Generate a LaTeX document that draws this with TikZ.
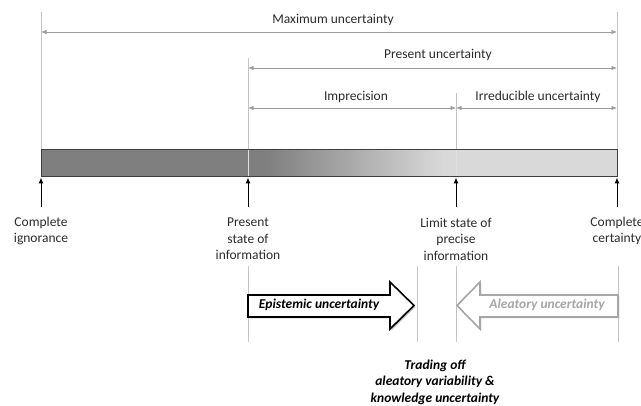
\documentclass[tikz,border=0pt]{standalone}
\usepackage{fontspec}
\setmainfont{Carlito}
\usetikzlibrary{arrows.meta,shadows}
\definecolor{txt}{HTML}{2B2B2B}
\definecolor{dimc}{HTML}{9C9C9C}
\definecolor{guide}{HTML}{C4C4C4}
\definecolor{bardark}{HTML}{7F7F7F}
\definecolor{barlight}{HTML}{D9D9D9}
\definecolor{barborder}{HTML}{3F3F3F}
\definecolor{aleac}{HTML}{A6A6A6}
\begin{document}
\begin{tikzpicture}[x=1pt,y=-1pt,
  lbl/.style={font=\fontsize{13.5}{16.5}\selectfont, text=txt, inner sep=0pt, align=center},
  dim/.style={draw=dimc, line width=0.8pt, {Latex[length=5.5pt,width=4.5pt]}-{Latex[length=5.5pt,width=4.5pt]}},
  guideline/.style={draw=guide, line width=0.7pt},
  barguide/.style={draw=white!88!black, line width=0.9pt},
  uparrow/.style={draw=black, line width=1pt, -{Latex[length=6pt,width=5pt]}},
  blockarrow/.style={fill=white, line width=1.6pt, line join=miter},
]
\useasboundingbox (0,0) rectangle (641,406);

% --- guide lines (top)
\coordinate (ciT) at (41,12);   \coordinate (ciB) at (41,150);
\coordinate (psT) at (248,58);  \coordinate (psB) at (248,150);
\coordinate (lsT) at (456,93);  \coordinate (lsB) at (456,150);
\coordinate (ccT) at (617,12);  \coordinate (ccB) at (617,150);
\draw[guideline] (ciT) -- (ciB);
\draw[guideline] (psT) -- (psB);
\draw[guideline] (lsT) -- (lsB);
\draw[guideline] (ccT) -- (ccB);

% --- dimension arrows
\coordinate (maxL) at (41,32);  \coordinate (maxR) at (617,32);
\draw[dim] (maxL) -- (maxR);
\node[lbl] (maxlbl) at (333,20) {Maximum uncertainty};

\coordinate (preL) at (248,68); \coordinate (preR) at (617,68);
\draw[dim] (preL) -- (preR);
\node[lbl] (prelbl) at (438,55) {Present uncertainty};

\coordinate (impL) at (248,108); \coordinate (impR) at (456,108);
\draw[dim] (impL) -- (impR);
\node[lbl] (implbl) at (356,97) {Imprecision};

\coordinate (irrL) at (456,108); \coordinate (irrR) at (617,108);
\draw[dim] (irrL) -- (irrR);
\node[lbl] (irrlbl) at (538,97) {Irreducible uncertainty};

% --- bar
\fill[bardark] (41,150) rectangle (267,177);
\shade[left color=bardark, right color=barlight] (266.5,151) rectangle (443.5,176);
\fill[barlight] (443,150) rectangle (617,177);
\draw[barguide] (248,150) -- (248,177);
\draw[barguide] (456,150) -- (456,177);
\draw[barborder, line width=1pt] (41,150) rectangle (617,177);

% --- up arrows
\coordinate (ciA) at (41,207);  \coordinate (ciBar) at (41,177.5);
\coordinate (psA) at (248,207); \coordinate (psBar) at (248,177.5);
\coordinate (lsA) at (456,207); \coordinate (lsBar) at (456,177.5);
\coordinate (ccA) at (617,207); \coordinate (ccBar) at (617,177.5);
\draw[uparrow] (ciA) -- (ciBar);
\draw[uparrow] (psA) -- (psBar);
\draw[uparrow] (lsA) -- (lsBar);
\draw[uparrow] (ccA) -- (ccBar);

% --- state labels
\node[lbl] (cilbl) at (41,231) {Complete\\ignorance};
\node[lbl] (pslbl) at (248,239) {Present\\state of\\information};
\node[lbl] (lslbl) at (456,239) {Limit state of\\precise\\information};
\node[lbl] (cclbl) at (617,231) {Complete\\certainty};

% --- lower guide lines
\coordinate (g1T) at (248,266); \coordinate (g1B) at (248,342);
\coordinate (g2T) at (417,266); \coordinate (g2B) at (417,342);
\coordinate (g3T) at (456,266); \coordinate (g3B) at (456,342);
\coordinate (g4T) at (618,266); \coordinate (g4B) at (618,342);
\draw[guideline] (g1T) -- (g1B);
\draw[guideline] (g2T) -- (g2B);
\draw[guideline] (g3T) -- (g3B);
\draw[guideline] (g4T) -- (g4B);

% --- block arrows
\draw[blockarrow, draw=black, drop shadow={shadow xshift=1.5pt, shadow yshift=-1.5pt, opacity=0.45}]
  (248,295) -- (390,295) -- (390,282) -- (414,305.5) -- (390,329) -- (390,317) -- (248,317) -- cycle;
\node[lbl, font=\fontsize{13.5}{16.5}\selectfont\bfseries\itshape, text=black] (epi) at (319,305) {Epistemic uncertainty};

\draw[blockarrow, draw=aleac, drop shadow={shadow xshift=1.5pt, shadow yshift=-1.5pt, opacity=0.2}]
  (618,295) -- (480,295) -- (480,282) -- (457,305.5) -- (480,329) -- (480,317) -- (618,317) -- cycle;
\node[lbl, font=\fontsize{13.5}{16.5}\selectfont\bfseries\itshape, text=aleac] (ale) at (547,305) {Aleatory uncertainty};

% --- trading off
\node[lbl, font=\fontsize{13.5}{16.5}\selectfont\bfseries\itshape, text=black] (trade) at (435,382)
  {Trading off\\aleatory variability \&\\knowledge uncertainty};
\end{tikzpicture}
\end{document}
